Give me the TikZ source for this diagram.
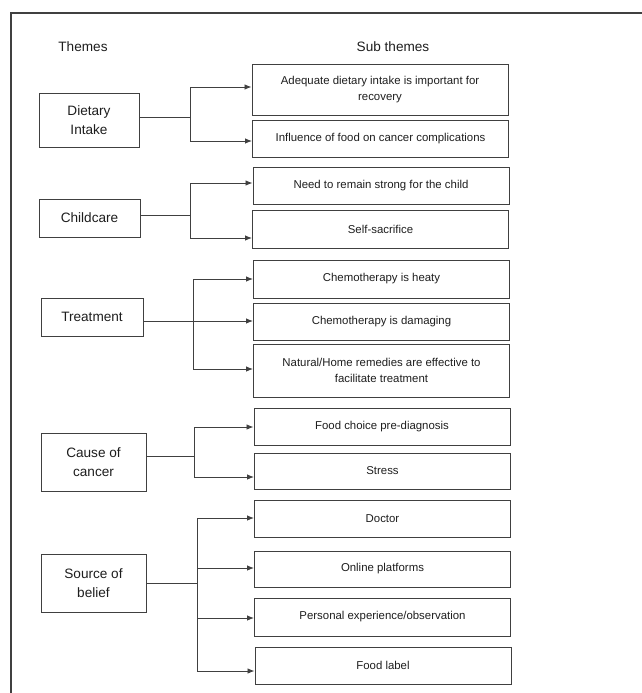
\documentclass[tikz,border=0pt]{standalone}
\usepackage{fontspec}
\setmainfont{Liberation Sans}
\usetikzlibrary{arrows.meta}
\definecolor{ln}{HTML}{404040}
\definecolor{tx}{HTML}{1E1E1E}
\tikzset{
  themebox/.style={draw=ln, line width=0.95pt, inner sep=0pt, align=center, text=tx,
    font=\fontsize{13.6}{19}\selectfont},
  subbox/.style={draw=ln, line width=0.95pt, inner sep=0pt, align=center, text=tx,
    font=\fontsize{11.4}{16.5}\selectfont, minimum width=256pt},
  hdr/.style={text=tx, font=\fontsize{13.6}{16}\selectfont, inner sep=0pt},
  conn/.style={draw=ln, line width=0.9pt},
  arr/.style={conn, -{Latex[length=7pt,width=5.5pt]}},
  frame/.style={draw=ln, line width=1.2pt}
}
\begin{document}
\begin{tikzpicture}[x=1pt,y=-1pt]
\useasboundingbox (0,0) rectangle (642,693);
\fill[white] (0,0) rectangle (642,693);
% frame (top and left edges)
\coordinate (fl) at (11,693);
\coordinate (fc) at (11,13);
\coordinate (fr) at (642,13);
\draw[frame] (fl) -- (fc) -- (fr);

% headers
\node[hdr] (hthemes) at (83,47) {Themes};
\node[hdr] (hsub) at (393,47) {Sub themes};

% theme boxes
\node[themebox, minimum width=100pt, minimum height=54pt] (diet) at (89,120) {Dietary\\Intake};
\node[themebox, minimum width=101pt, minimum height=38pt] (child) at (89.5,218) {Childcare};
\node[themebox, minimum width=102pt, minimum height=38pt] (treat) at (92,317) {Treatment};
\node[themebox, minimum width=105pt, minimum height=58pt] (cause) at (93.5,462) {Cause of\\cancer};
\node[themebox, minimum width=105pt, minimum height=58pt] (source) at (93.5,583) {Source of\\belief};

% sub-theme boxes
\node[subbox, minimum height=51pt] (s1) at (380,89.5) {Adequate dietary intake is important for\\recovery};
\node[subbox, minimum height=37pt] (s2) at (380.5,138.5) {Influence of food on cancer complications};
\node[subbox, minimum height=37pt] (s3) at (381,185.5) {Need to remain strong for the child};
\node[subbox, minimum height=38pt] (s4) at (380.5,229) {Self-sacrifice};
\node[subbox, minimum height=38pt] (s5) at (381.5,279) {Chemotherapy is heaty};
\node[subbox, minimum height=37pt] (s6) at (381.5,321.5) {Chemotherapy is damaging};
\node[subbox, minimum height=53pt] (s7) at (381.5,370.5) {Natural/Home remedies are effective to\\facilitate treatment};
\node[subbox, minimum height=37pt] (s8) at (382,426.5) {Food choice pre-diagnosis};
\node[subbox, minimum height=36pt] (s9) at (382.5,471) {Stress};
\node[subbox, minimum height=37pt] (s10) at (382.5,518.5) {Doctor};
\node[subbox, minimum height=36pt] (s11) at (382.5,569) {Online platforms};
\node[subbox, minimum height=38pt] (s12) at (382.5,617) {Personal experience/observation};
\node[subbox, minimum height=37pt] (s13) at (383,665.5) {Food label};

% group 1: Dietary Intake
\coordinate (j1) at (190,117);
\coordinate (a1) at (190,87);
\coordinate (b1) at (190,141);
\draw[conn] (diet.east |- j1) -- (j1);
\draw[conn] (a1) -- (b1);
\draw[arr] (a1) -- (a1 -| s1.west);
\draw[arr] (b1) -- (b1 -| s2.west);

% group 2: Childcare
\coordinate (j2) at (190,215);
\coordinate (a2) at (190,183);
\coordinate (b2) at (190,238);
\draw[conn] (child.east |- j2) -- (j2);
\draw[conn] (a2) -- (b2);
\draw[arr] (a2) -- (a2 -| s3.west);
\draw[arr] (b2) -- (b2 -| s4.west);

% group 3: Treatment
\coordinate (a3) at (193,279);
\coordinate (m3) at (193,321);
\coordinate (b3) at (193,369);
\draw[arr] (treat.east |- m3) -- (m3 -| s6.west);
\draw[conn] (a3) -- (b3);
\draw[arr] (a3) -- (a3 -| s5.west);
\draw[arr] (b3) -- (b3 -| s7.west);

% group 4: Cause of cancer
\coordinate (j4) at (194,456);
\coordinate (a4) at (194,427);
\coordinate (b4) at (194,477);
\draw[conn] (cause.east |- j4) -- (j4);
\draw[conn] (a4) -- (b4);
\draw[arr] (a4) -- (a4 -| s8.west);
\draw[arr] (b4) -- (b4 -| s9.west);

% group 5: Source of belief
\coordinate (j5) at (197,583);
\coordinate (a5) at (197,518);
\coordinate (c5) at (197,568);
\coordinate (d5) at (197,618);
\coordinate (b5) at (197,671);
\draw[conn] (source.east |- j5) -- (j5);
\draw[conn] (a5) -- (b5);
\draw[arr] (a5) -- (a5 -| s10.west);
\draw[arr] (c5) -- (c5 -| s11.west);
\draw[arr] (d5) -- (d5 -| s12.west);
\draw[arr] (b5) -- (b5 -| s13.west);
\end{tikzpicture}
\end{document}
